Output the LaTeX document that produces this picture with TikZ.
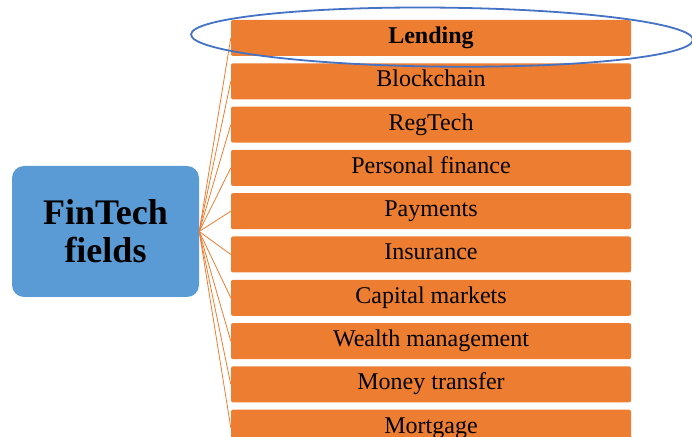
\documentclass[tikz,border=0pt]{standalone}
\usepackage{fontspec}
\setmainfont{Liberation Serif}
\usetikzlibrary{positioning}

\definecolor{fieldorange}{HTML}{ED7D31}
\definecolor{rootblue}{HTML}{5B9BD5}
\definecolor{ringblue}{HTML}{4472C4}

\begin{document}
\begin{tikzpicture}[
  font=\fontsize{24}{26}\selectfont,
  node distance=6.9pt,
  root/.style={fill=rootblue, rounded corners=12pt, align=center,
               minimum width=187pt, minimum height=131pt,
               font=\fontsize{36}{38}\selectfont\bfseries},
  field/.style={fill=fieldorange, rounded corners=2pt, inner sep=0pt,
                text height=16pt, text depth=5pt,
                minimum width=400pt, minimum height=36pt},
  link/.style={draw=fieldorange, line width=0.8pt},
  ring/.style={draw=ringblue, line width=1.8pt}
]
\useasboundingbox (0,0) rectangle (692pt,436pt);

% Nodes
\node[root] (fintech) at (105.5pt,204.5pt) {FinTech\\fields};

\node[field, font=\fontsize{24}{26}\selectfont\bfseries] (lending) at (431pt,398pt) {Lending};
\node[field, below=of lending] (blockchain) {Blockchain};
\node[field, below=of blockchain] (regtech) {RegTech};
\node[field, below=of regtech] (personal) {Personal finance};
\node[field, below=of personal] (payments) {Payments};
\node[field, below=of payments] (insurance) {Insurance};
\node[field, below=of insurance] (capital) {Capital markets};
\node[field, below=of capital] (wealth) {Wealth management};
\node[field, below=of wealth] (transfer) {Money transfer};
\node[field, below=of transfer] (mortgage) {Mortgage};

% Links
\foreach \f in {lending,blockchain,regtech,personal,payments,
                insurance,capital,wealth,transfer,mortgage}
  \draw[link] (fintech.east) -- (\f.west);

% Highlight round the first field
\draw[ring, rotate around={-0.6:([xshift=11pt,yshift=1pt]lending.center)}]
  ([xshift=11pt,yshift=1pt]lending.center) ellipse [x radius=251pt, y radius=29.5pt];
\end{tikzpicture}
\end{document}
